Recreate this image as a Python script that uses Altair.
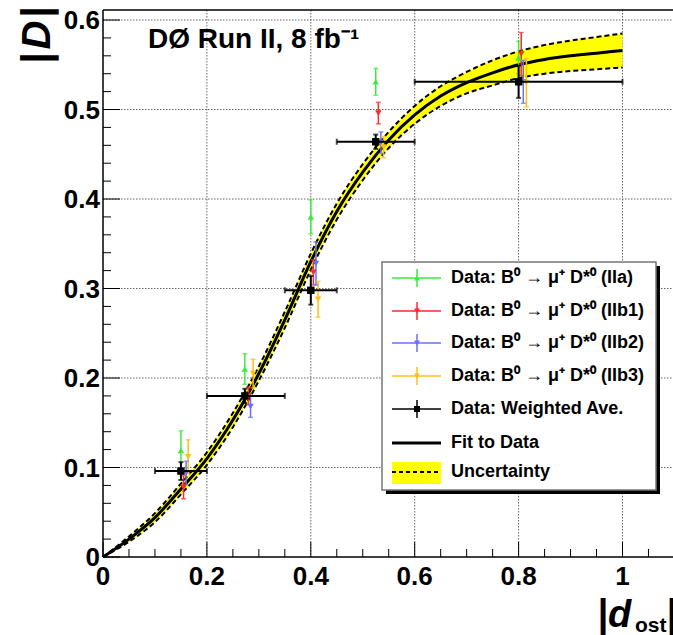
import altair as alt
import pandas as pd

# ---------------- data ----------------
series_names = ["IIa", "IIb1", "IIb2", "IIb3"]
series_colors = ["#3dea3d", "#ff2a2a", "#6670ff", "#ffbf14"]
series_shapes = ["triangle-up", "triangle-down", "triangle-down", "triangle-down"]

iia_x = [0.150, 0.273, 0.400, 0.525, 0.800]
iia_y = [0.119, 0.210, 0.380, 0.531, 0.558]
iia_err = [0.022, 0.017, 0.019, 0.015, 0.018]

iib1_x = [0.155, 0.280, 0.405, 0.530, 0.805]
iib1_y = [0.078, 0.180, 0.318, 0.496, 0.562]
iib1_err = [0.013, 0.010, 0.014, 0.012, 0.024]

iib2_x = [0.160, 0.284, 0.410, 0.535, 0.809]
iib2_y = [0.094, 0.168, 0.328, 0.463, 0.531]
iib2_err = [0.013, 0.012, 0.024, 0.012, 0.024]

iib3_x = [0.164, 0.289, 0.414, 0.540, 0.815]
iib3_y = [0.112, 0.205, 0.288, 0.458, 0.530]
iib3_err = [0.019, 0.016, 0.020, 0.012, 0.027]

wa_x = [0.150, 0.273, 0.400, 0.525, 0.800]
wa_xlo = [0.10, 0.20, 0.35, 0.45, 0.60]
wa_xhi = [0.20, 0.35, 0.45, 0.60, 1.00]
wa_y = [0.096, 0.180, 0.298, 0.464, 0.531]
wa_err = [0.010, 0.008, 0.016, 0.008, 0.018]

fit_x = [0.00, 0.05, 0.10, 0.15, 0.20, 0.25, 0.30, 0.35, 0.40, 0.45, 0.50,
         0.55, 0.60, 0.65, 0.70, 0.75, 0.80, 0.85, 0.90, 0.95, 1.00]
fit_y = [0.000, 0.020, 0.044, 0.076, 0.110, 0.153, 0.205, 0.265, 0.330, 0.386, 0.430,
         0.466, 0.494, 0.515, 0.530, 0.541, 0.550, 0.556, 0.560, 0.563, 0.566]
fit_hi = [0.000, 0.023, 0.049, 0.082, 0.117, 0.161, 0.213, 0.274, 0.339, 0.395, 0.439,
          0.475, 0.504, 0.526, 0.542, 0.555, 0.565, 0.572, 0.577, 0.581, 0.585]
fit_lo = [0.000, 0.017, 0.039, 0.070, 0.103, 0.145, 0.197, 0.256, 0.321, 0.377, 0.421,
          0.457, 0.484, 0.504, 0.518, 0.527, 0.535, 0.540, 0.543, 0.545, 0.547]

x_major = [0, 0.2, 0.4, 0.6, 0.8, 1.0]
x_labels = ["0", "0.2", "0.4", "0.6", "0.8", "1"]
x_minor = [0.05, 0.1, 0.15, 0.25, 0.3, 0.35, 0.45, 0.5, 0.55, 0.65, 0.7, 0.75,
           0.85, 0.9, 0.95, 1.05]
y_major = [0, 0.1, 0.2, 0.3, 0.4, 0.5, 0.6]
y_labels = ["0", "0.1", "0.2", "0.3", "0.4", "0.5", "0.6"]
y_minor = [0.02, 0.04, 0.06, 0.08, 0.12, 0.14, 0.16, 0.18, 0.22, 0.24, 0.26, 0.28,
           0.32, 0.34, 0.36, 0.38, 0.42, 0.44, 0.46, 0.48, 0.52, 0.54, 0.56, 0.58]

legend_labels = [
    "Data: B\u2070 \u2192 \u03bc\u207a D*\u2070 (IIa)",
    "Data: B\u2070 \u2192 \u03bc\u207a D*\u2070 (IIb1)",
    "Data: B\u2070 \u2192 \u03bc\u207a D*\u2070 (IIb2)",
    "Data: B\u2070 \u2192 \u03bc\u207a D*\u2070 (IIb3)",
    "Data: Weighted Ave.",
    "Fit to Data",
    "Uncertainty",
]
title_text = "D\u00d8 Run II, 8 fb\u207b\u00b9"

# ---------------- layout ----------------
W, H = 570, 547
X0, Y0 = 103, 10
FONT = "Liberation Sans"

xs = alt.Scale(domain=[0, 1.0972], nice=False, zero=False)
ys = alt.Scale(domain=[0, 0.6112], nice=False, zero=False)


def X(f):
    return alt.X(f, type="quantitative", scale=xs, axis=None)


def Y(f):
    return alt.Y(f, type="quantitative", scale=ys, axis=None)


def px(v):
    return v - X0


def py(v):
    return v - Y0


one = pd.DataFrame({"k": [0]})

# tables built from the arrays
rows = []
for name, col, shp, xx, yy, ee in zip(
        series_names, series_colors, series_shapes,
        [iia_x, iib1_x, iib2_x, iib3_x],
        [iia_y, iib1_y, iib2_y, iib3_y],
        [iia_err, iib1_err, iib2_err, iib3_err]):
    for a, b, c in zip(xx, yy, ee):
        rows.append({"series": name, "col": col, "shape": shp, "x": a, "y": b,
                     "lo": b - c, "hi": b + c})
pts_df = pd.DataFrame(rows)

wa_df = pd.DataFrame({"x": wa_x, "xlo": wa_xlo, "xhi": wa_xhi, "y": wa_y,
                      "lo": [a - b for a, b in zip(wa_y, wa_err)],
                      "hi": [a + b for a, b in zip(wa_y, wa_err)]})

fit_df = pd.DataFrame({"x": fit_x, "y": fit_y, "hi": fit_hi, "lo": fit_lo})
xmaj_df = pd.DataFrame({"v": x_major, "t": x_labels})
ymaj_df = pd.DataFrame({"v": y_major, "t": y_labels})

# ---------------- frame, grid, ticks, tick labels ----------------
GRID = dict(color="#666", strokeWidth=1, strokeDash=[1.5, 1.5])
xgrid = alt.Chart(xmaj_df).transform_filter("datum.v > 0").mark_rule(**GRID).encode(
    x=X("v"), y=alt.value(0), y2=alt.value(H))
ygrid = alt.Chart(ymaj_df).transform_filter("datum.v > 0").mark_rule(**GRID).encode(
    y=Y("v"), x=alt.value(0), x2=alt.value(W))

left_frame = alt.Chart(one).mark_rule(color="black", strokeWidth=1.5).encode(
    x=alt.value(0), y=alt.value(0), y2=alt.value(H))
bottom_frame = alt.Chart(one).mark_rule(color="black", strokeWidth=1.5).encode(
    x=alt.value(0), x2=alt.value(W), y=alt.value(H))
top_frame = alt.Chart(one).mark_rule(color="black", strokeWidth=1.5).encode(
    x=alt.value(0), x2=alt.value(W), y=alt.value(0))

xt_major = alt.Chart(xmaj_df).mark_rule(color="black", strokeWidth=1).encode(
    x=X("v"), y=alt.value(H), y2=alt.value(H - 15))
xt_minor = alt.Chart(pd.DataFrame({"v": x_minor})).mark_rule(color="black", strokeWidth=1).encode(
    x=X("v"), y=alt.value(H), y2=alt.value(H - 8))
yt_major = alt.Chart(ymaj_df).mark_rule(color="black", strokeWidth=1).encode(
    y=Y("v"), x=alt.value(0), x2=alt.value(17))
yt_minor = alt.Chart(pd.DataFrame({"v": y_minor})).mark_rule(color="black", strokeWidth=1).encode(
    y=Y("v"), x=alt.value(0), x2=alt.value(8))

xlab = alt.Chart(xmaj_df).mark_text(align="center", baseline="alphabetic", font=FONT,
                                    fontWeight="bold", fontSize=26, color="black").encode(
    x=X("v"), y=alt.value(py(585)), text="t:N")
ylab = alt.Chart(ymaj_df).mark_text(align="right", baseline="alphabetic", dy=9, font=FONT,
                                    fontWeight="bold", fontSize=26, color="black").encode(
    y=Y("v"), x=alt.value(-3), text="t:N")

# ---------------- fit and band ----------------
band = alt.Chart(fit_df).mark_area(color="#ffff00", interpolate="monotone", opacity=1).encode(
    x=X("x"), y=Y("hi"), y2="lo")
dash_hi = alt.Chart(fit_df).mark_line(color="black", strokeWidth=2, strokeDash=[5, 3],
                                      interpolate="monotone").encode(x=X("x"), y=Y("hi"))
dash_lo = alt.Chart(fit_df).mark_line(color="black", strokeWidth=2, strokeDash=[5, 3],
                                      interpolate="monotone").encode(x=X("x"), y=Y("lo"))
fit_line = alt.Chart(fit_df).mark_line(color="black", strokeWidth=3,
                                       interpolate="monotone").encode(x=X("x"), y=Y("y"))

# ---------------- coloured data ----------------
pts = alt.Chart(pts_df)
colr = alt.Color("col:N", scale=None, legend=None)
vbar = pts.mark_rule(strokeWidth=1.5).encode(x=X("x"), y=Y("lo"), y2="hi", color=colr)
cap_lo = pts.mark_tick(orient="horizontal", size=5, thickness=1.5).encode(x=X("x"), y=Y("lo"), color=colr)
cap_hi = pts.mark_tick(orient="horizontal", size=5, thickness=1.5).encode(x=X("x"), y=Y("hi"), color=colr)
mk = pts.mark_point(filled=True, opacity=1, size=42).encode(
    x=X("x"), y=Y("y"), color=colr, shape=alt.Shape("shape:N", scale=None, legend=None))

# ---------------- weighted average ----------------
wa = alt.Chart(wa_df)
wa_h = wa.mark_rule(color="black", strokeWidth=2).encode(x=X("xlo"), x2="xhi", y=Y("y"))
wa_hl = wa.mark_tick(orient="vertical", size=6, thickness=2, color="black").encode(x=X("xlo"), y=Y("y"))
wa_hr = wa.mark_tick(orient="vertical", size=6, thickness=2, color="black").encode(x=X("xhi"), y=Y("y"))
wa_v = wa.mark_rule(color="black", strokeWidth=2).encode(x=X("x"), y=Y("lo"), y2="hi")
wa_vl = wa.mark_tick(orient="horizontal", size=5, thickness=2, color="black").encode(x=X("x"), y=Y("lo"))
wa_vh = wa.mark_tick(orient="horizontal", size=5, thickness=2, color="black").encode(x=X("x"), y=Y("hi"))
wa_mk = wa.mark_point(filled=True, opacity=1, size=55, shape="square", color="black").encode(
    x=X("x"), y=Y("y"))

# ---------------- legend (drawn by hand, ROOT style) ----------------
row_y = [278, 311, 343, 376, 409, 443, 472]
leg_all = pd.DataFrame({"label": legend_labels, "py": [py(v) for v in row_y]})
leg_dat = pd.DataFrame({
    "col": series_colors + ["black"],
    "shape": series_shapes + ["square"],
    "py": [py(v) for v in row_y[:5]],
    "pt": [py(v) - 9 for v in row_y[:5]],
    "pb": [py(v) + 9 for v in row_y[:5]],
})
PY = alt.Y("py:Q", scale=None, axis=None)

leg_shadow = alt.Chart(one).mark_rect(color="black").encode(
    x=alt.value(px(386)), x2=alt.value(px(660)), y=alt.value(py(266)), y2=alt.value(py(494)))
leg_box = alt.Chart(one).mark_rect(fill="white", stroke="#777", strokeWidth=1.5).encode(
    x=alt.value(px(382)), x2=alt.value(px(656)), y=alt.value(py(262)), y2=alt.value(py(490)))
leg_h = alt.Chart(leg_dat).mark_rule(strokeWidth=1.5).encode(
    x=alt.value(px(392)), x2=alt.value(px(441)), y=PY, color=colr)
leg_v = alt.Chart(leg_dat).mark_rule(strokeWidth=1.5).encode(
    x=alt.value(px(417)), y=alt.Y("pt:Q", scale=None, axis=None), y2="pb:Q", color=colr)
leg_mk = alt.Chart(leg_dat).mark_point(filled=True, opacity=1, size=36).encode(
    x=alt.value(px(417)), y=PY, color=colr, shape=alt.Shape("shape:N", scale=None, legend=None))
leg_fit = alt.Chart(one).mark_rule(color="black", strokeWidth=3).encode(
    x=alt.value(px(392)), x2=alt.value(px(441)), y=alt.value(py(row_y[5])))
leg_unc = alt.Chart(one).mark_rect(color="#ffff00").encode(
    x=alt.value(px(392)), x2=alt.value(px(441)), y=alt.value(py(462)), y2=alt.value(py(484)))
leg_unc_d = alt.Chart(one).mark_rule(color="black", strokeWidth=2, strokeDash=[4, 3]).encode(
    x=alt.value(px(392)), x2=alt.value(px(441)), y=alt.value(py(row_y[6])))
leg_txt = alt.Chart(leg_all).mark_text(align="left", baseline="middle", font=FONT,
                                       fontWeight="bold", fontSize=18, color="black").encode(
    x=alt.value(px(451)), y=PY, text="label:N")

# ---------------- texts ----------------
title = alt.Chart(one).mark_text(align="left", baseline="alphabetic", font=FONT, fontWeight="bold",
                                 fontSize=28, color="black", text=title_text).encode(
    x=alt.value(px(148)), y=alt.value(py(48)))

ytitle_bar1 = alt.Chart(one).mark_text(angle=270, align="center", baseline="middle", font=FONT,
                                       fontWeight="bold", fontSize=40, color="black", text="|").encode(
    x=alt.value(px(38)), y=alt.value(py(58)))
ytitle_d = alt.Chart(one).mark_text(angle=270, align="center", baseline="middle", font=FONT,
                                    fontWeight="bold", fontStyle="italic", fontSize=40,
                                    color="black", text="D").encode(
    x=alt.value(px(38)), y=alt.value(py(35)))
ytitle_bar2 = alt.Chart(one).mark_text(angle=270, align="center", baseline="middle", font=FONT,
                                       fontWeight="bold", fontSize=40, color="black", text="|").encode(
    x=alt.value(px(38)), y=alt.value(py(12)))

xt_bar1 = alt.Chart(one).mark_text(align="center", baseline="alphabetic", font=FONT,
                                   fontWeight="bold", fontSize=38, color="black", text="|").encode(
    x=alt.value(px(603)), y=alt.value(py(626)))
xt_d = alt.Chart(one).mark_text(align="left", baseline="alphabetic", font=FONT, fontWeight="bold",
                                fontStyle="italic", fontSize=38, color="black", text="d").encode(
    x=alt.value(px(608)), y=alt.value(py(627)))
xt_sub = alt.Chart(one).mark_text(align="left", baseline="alphabetic", font=FONT, fontWeight="bold",
                                  fontSize=21, color="black", text="ost").encode(
    x=alt.value(px(635)), y=alt.value(py(632)))
xt_bar2 = alt.Chart(one).mark_text(align="center", baseline="alphabetic", font=FONT,
                                   fontWeight="bold", fontSize=38, color="black", text="|").encode(
    x=alt.value(px(672)), y=alt.value(py(626)))

chart = alt.layer(
    xgrid, ygrid,
    band, dash_hi, dash_lo, fit_line,
    vbar, cap_lo, cap_hi, mk,
    wa_h, wa_hl, wa_hr, wa_v, wa_vl, wa_vh, wa_mk,
    left_frame, bottom_frame, top_frame,
    xt_major, xt_minor, yt_major, yt_minor, xlab, ylab,
    leg_shadow, leg_box, leg_h, leg_v, leg_mk, leg_fit, leg_unc, leg_unc_d, leg_txt,
    title, ytitle_bar1, ytitle_d, ytitle_bar2, xt_bar1, xt_d, xt_sub, xt_bar2,
).properties(
    width=W, height=H,
    padding={"left": X0, "top": Y0, "right": 0, "bottom": 635 - Y0 - H},
    autosize=alt.AutoSizeParams(type="none"),
    background="white",
).configure_view(stroke=None)

chart.save("out.html", embed_options={"renderer": "svg", "actions": False})
